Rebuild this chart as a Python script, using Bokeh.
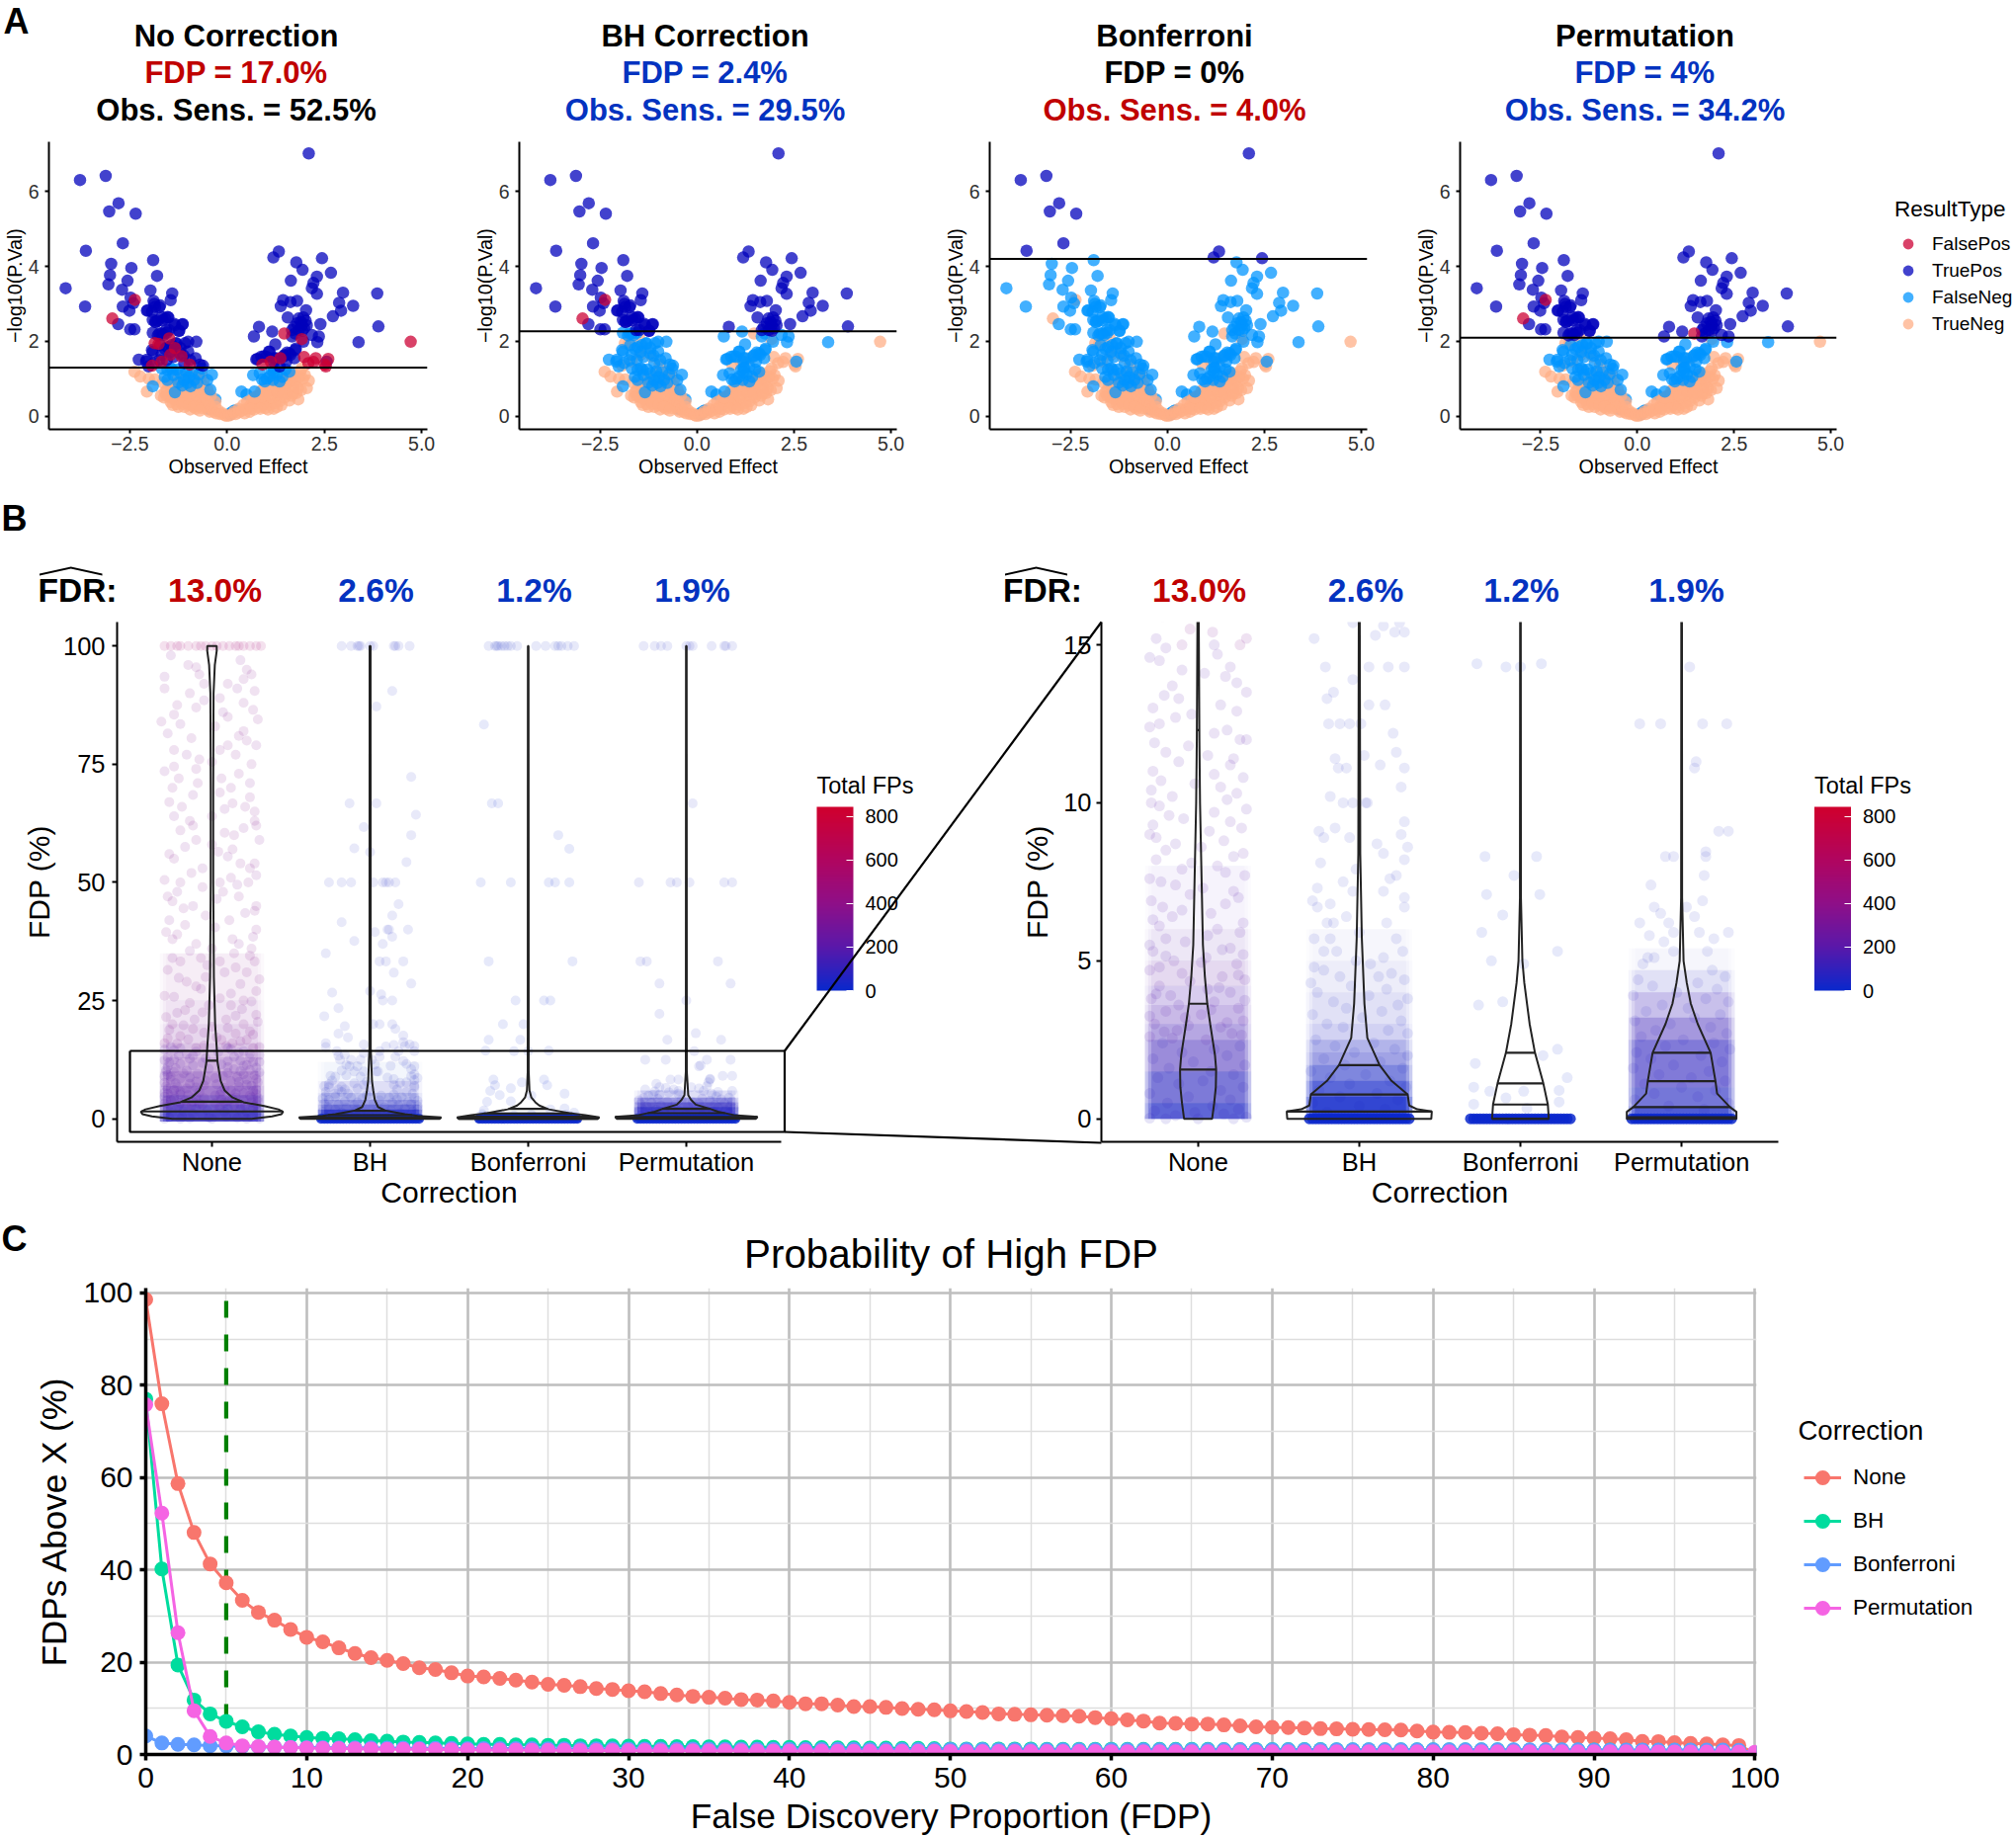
import numpy as np
from bokeh.plotting import figure
from bokeh.models import (Range1d, FixedTicker, Span, Legend, LegendItem, ColorBar,
                          LinearColorMapper, ColumnDataSource)
from bokeh.core.properties import value
from bokeh.layouts import row, column
from bokeh.embed import file_html
from bokeh.resources import INLINE

FONT = "Liberation Sans"
RED, BLUE = "#C00000", "#0433C0"

# ---------- Panel A data ----------
positive_points = [
(-4.15,3.42),(-3.65,2.93),(-3.63,4.42),(-3.78,6.31),(-3.12,6.42),(-2.79,5.69),(-3.03,5.47),(-2.35,5.41),(-2.68,4.62),(-2.98,4.07),
(-3.01,3.77),(-3.05,3.52),(-2.46,3.96),(-2.56,3.62),(-2.70,3.38),(-2.48,3.17),(-2.68,2.93),(-2.51,2.82),(-2.41,3.02),(-2.80,2.46),
(-2.49,2.32),(-2.38,2.32),(-1.90,4.17),(-1.80,3.75),(-1.97,3.36),(-1.41,3.28),(-1.45,3.10),(-1.89,3.08),(-2.06,2.82),(-1.93,2.79),
(-1.72,2.96),(-1.85,2.92),(-1.91,2.57),(-1.78,2.55),(-1.68,2.65),(-1.51,2.64),(-1.34,2.43),(-1.14,2.46),(-1.24,2.28),(-1.91,2.23),
(-1.68,2.21),(-1.55,2.23),(-1.78,2.16),(-1.85,2.52),(-1.59,2.61),(-1.49,2.30),(-1.63,2.17),(-1.87,3.0),(-1.74,2.91),(-2.04,2.83),
(-1.66,2.56),(-1.53,2.65),(-1.83,2.52),(-1.74,2.21),(-1.57,2.30),(-1.36,2.47),(-1.15,2.45),(-1.23,2.28),
(-1.0,1.99),(-0.79,1.99),(-1.08,1.95),(-1.30,1.95),(-1.42,1.90),(-1.72,1.90),(-1.93,1.77),(-1.68,1.64),(-1.0,1.73),(-0.81,1.55),
(-1.21,1.68),(-2.27,1.51),(-2.06,1.51),(-2.02,1.33),(-0.70,1.38),(-0.62,1.35),(-1.32,1.94),(-1.53,1.85),(-1.91,1.72),(-1.74,1.5),
(-2.08,1.46),(-1.6,1.8),(-1.45,1.72),(-1.2,1.82),(-1.12,1.62),(-1.38,1.58),(-1.55,1.5),(-1.88,1.42),(-0.95,1.5),(-1.1,1.42),
(-1.91,0.80),(-1.34,0.64),(-1.53,0.97),(-1.40,1.24),(-1.02,0.89),(-0.85,0.97),(-1.11,0.97),(-0.94,0.80),(-0.77,0.89),(-0.64,1.27),
(-0.39,1.11),(-0.51,0.97),(-0.43,0.71),(-0.47,0.20),(0.10,0.09),(0.21,0.16),(-0.30,0.45),(-1.53,1.24),(-1.45,1.28),(-1.28,1.25),
(-1.38,1.1),(-1.2,1.15),(-1.05,1.2),(-0.98,1.05),(-1.25,0.9),(-1.15,0.82),(-0.9,1.18),(-0.72,1.12),(-1.6,1.05),(-1.68,1.28),
(2.10,7.02),(1.33,4.40),(1.19,4.24),(1.78,4.11),(2.44,4.22),(1.94,3.91),(2.67,3.83),(2.31,3.73),(1.64,3.62),(2.22,3.56),
(2.18,3.42),(2.31,3.27),(2.98,3.30),(3.86,3.28),(2.88,3.03),(3.24,2.95),(2.93,2.82),(2.72,2.67),(2.40,2.46),(3.89,2.40),
(3.38,1.98),(1.44,3.10),(1.38,2.94),(1.63,3.05),(1.80,3.08),(2.03,2.83),(1.56,2.64),(1.84,2.61),(1.96,2.64),(2.05,2.43),
(1.92,2.43),(1.80,2.48),(0.82,2.39),(0.69,2.13),(1.16,2.26),(1.67,2.30),(1.75,2.21),(1.67,2.13),(2.18,2.17),(2.36,2.13),
(2.32,1.98),(1.96,1.99),(1.24,1.92),(1.08,1.73),(0.78,1.53),(0.95,1.60),(1.20,1.55),(1.54,1.70),(1.75,1.77),(1.63,1.64),
(1.46,1.60),(2.56,1.46),(1.20,1.29),(1.90,2.52),(1.98,2.35),(1.85,2.3),(2.02,2.55),(1.93,2.28),(1.72,2.38),
(1.60,1.68),(1.77,1.81),(1.09,1.72),(0.88,1.59),(0.75,1.52),(1.01,1.59),(1.26,1.55),(1.47,1.63),(1.73,1.55),(1.20,1.46),(1.35,1.33),(1.52,1.46),
(0.67,1.10),(0.84,1.15),(1.14,1.24),(1.22,1.28),(1.09,1.06),(1.18,0.97),(1.35,0.93),(1.60,1.19),(0.97,0.93),(0.37,0.66),
(0.50,0.58),(0.71,0.66),(0.80,0.53),(0.67,0.31),(0.75,0.45),(0.16,0.13),(0.08,0.05),(1.02,1.0),(1.28,1.12),(1.42,1.05),(1.2,1.18),(0.9,0.98),(1.5,1.25),
]
null_points = [
(-2.37,3.11),(-2.95,2.61),(-1.49,2.08),(-1.86,1.95),(-1.34,1.82),(-1.46,1.64),(-1.17,1.60),(-0.96,1.38),(-1.93,1.35),(-1.68,1.46),(-1.76,1.93),
(1.47,2.21),(1.92,2.06),(1.98,1.58),(2.28,1.55),(2.60,1.53),(2.09,1.42),(2.22,1.45),(2.54,1.33),(2.51,1.38),(1.12,1.46),(1.37,1.55),(0.91,1.38),(4.72,1.99),
(-2.38,1.19),(-2.23,1.06),(-2.01,1.0),(-2.06,0.66),(-1.85,0.98),(-1.6,0.64),(-1.5,0.56),(-1.55,0.7),(-1.45,0.5),(-1.4,0.62),(-1.35,0.45),(-1.3,0.7),
(-1.25,0.55),(-1.2,0.4),(-1.2,0.75),(-1.15,0.5),(-1.1,0.62),(-1.05,0.35),(-1.05,0.8),(-1.0,0.45),(-1.0,0.95),(-0.95,0.58),(-0.9,0.3),(-0.9,0.72),
(-0.85,0.42),(-0.85,1.05),(-0.8,0.55),(-0.78,1.2),(-0.75,0.28),(-0.75,0.85),(-0.7,0.42),(-0.7,0.65),(-0.65,0.22),(-0.65,0.5),(-0.6,0.35),(-0.6,0.7),
(-0.55,0.25),(-0.55,0.5),(-0.5,0.18),(-0.5,0.38),(-0.45,0.12),(-0.45,0.3),(-0.4,0.2),(-0.35,0.12),(-0.3,0.25),(-0.28,0.08),(-0.22,0.15),(-0.18,0.06),
(-0.12,0.08),(-0.06,0.03),(-0.02,0.01),(-1.65,0.9),(-1.28,1.0),(-1.1,1.12),(-0.65,1.1),(-1.42,0.82),(-0.95,0.82),(-0.6,0.95),(-1.62,0.5),(-1.45,0.38),
(-1.3,0.32),(-1.1,0.25),(-0.95,0.18),(-0.8,0.2),(-1.55,0.55),(-1.25,0.25),(-1.7,0.55),(-1.5,0.85),(-1.18,0.9),(-0.88,0.9),(-0.72,1.0),(-0.5,0.7),(-0.42,0.55),
(-0.3,0.38),(-1.35,0.85),(-1.08,0.5),(-0.82,0.72),(-0.62,0.82),(-1.4,0.3),(-1.15,0.33),(-0.98,0.3),(-0.85,0.25),(-0.7,0.15),
(0.05,0.02),(0.12,0.05),(0.18,0.12),(0.22,0.06),(0.3,0.1),(0.3,0.2),(0.38,0.15),(0.42,0.3),(0.45,0.08),(0.5,0.2),(0.52,0.38),(0.58,0.12),(0.6,0.28),
(0.65,0.45),(0.7,0.18),(0.72,0.35),(0.78,0.55),(0.82,0.25),(0.85,0.42),(0.88,0.68),(0.92,0.3),(0.95,0.5),(1.0,0.38),(1.02,0.62),(1.08,0.78),(1.1,0.3),
(1.15,0.48),(1.18,0.68),(1.22,0.35),(1.28,0.55),(1.3,0.8),(1.35,0.4),(1.38,0.65),(1.42,0.95),(1.48,0.5),(1.5,0.75),(1.55,0.6),(1.58,0.9),(1.62,1.05),
(1.65,0.55),(1.7,0.75),(1.72,1.1),(1.78,0.62),(1.8,0.9),(1.83,0.45),(1.88,1.2),(1.9,0.7),(1.95,1.0),(2.0,1.1),(2.05,0.75),(2.1,0.95),(1.92,1.28),
(1.25,0.95),(1.15,0.9),(0.95,0.75),(1.45,0.72),(1.65,0.95),(1.35,0.85),(0.78,0.4),(0.98,0.22),(1.2,0.2),(1.4,0.3),(1.6,0.42),(0.62,0.2),(0.7,0.5),(0.9,0.6),
(1.1,0.55),(1.3,0.65),(1.45,0.6),(1.7,0.62),(1.5,0.9),(1.75,0.95),(1.85,1.05),(1.68,1.15),(1.55,1.1),(1.82,0.75),(0.85,0.2),(1.05,0.18),(1.28,0.25),
]
thresholds = [1.3, 2.27, 4.2, 2.1]
panel_titles = ["No Correction", "BH Correction", "Bonferroni", "Permutation"]
fdp_lines = ["FDP = 17.0%", "FDP = 2.4%", "FDP = 0%", "FDP = 4%"]
sens_lines = ["Obs. Sens. = 52.5%", "Obs. Sens. = 29.5%", "Obs. Sens. = 4.0%", "Obs. Sens. = 34.2%"]
fdp_colors = [RED, BLUE, "black", BLUE]
sens_colors = ["black", BLUE, RED, BLUE]
result_types = ["FalsePos", "TruePos", "FalseNeg", "TrueNeg"]
result_colors = {"FalsePos": "#CC0033", "TruePos": "#0000BB", "FalseNeg": "#0095FF", "TrueNeg": "#FFAE85"}

# ---------- Panel B data ----------
categories = ["None", "BH", "Bonferroni", "Permutation"]
fdr_values = ["13.0%", "2.6%", "1.2%", "1.9%"]
fdr_colors = [RED, BLUE, BLUE, BLUE]

none_top = [-.30,-.26,-.22,-.2,-.15,-.1,-.07,-.04,.0,.03,.07,.11,.15,.17,.2,.24,.28,.31]
none_upper = [(96,-.15),(95.5,-.1),(95,.22),(94,-.08),(94,.25),(93,.2),(92,.1),(92,-.05),(91,-.3),(90.5,.27),(90,-.14),(89,.05),(88,.2),(87.5,-.22),(87,-.1),(86.5,.26),(85.5,-.24),(85,.1),(84.5,.29),(84,-.32),(83,.02),(82,.2),(81,.17),(80.5,-.13),(80,.22),(79,.1),(78,.05),(78,-.24),(77,.15),(76,-.08),(75.5,.0),(75,.25),(74.5,-.24),(74,-.1),(73,.17),(72,.06),(72,-.21),(71,-.09),(70,-.25),(70,.12),(69,.05),(68,.24),(67,-.27),(66.7,.13),(66,-.19),(66,.21),(65,.27),(64,.0),(63,-.14),(63,.27),(62,.28),(62,-.12),(61,-.2),(60.5,.08),(60,.14),(59,-.1),(58,.0),(57,.13),(56.5,.04),(56,-.27),(55,-.24),(54,.27),(54,.18),(53,.24),(52,-.13),(51,.12),(50.5,-.3),(50,-.2),(50,.05),(50,.23),(49,-.06),(48,.07),(47,.17),(47,-.28),(46,-.25),(45,.28),(44.5,-.18),(44,.27),(43,-.04),(42,.11),(41,-.17),(40,.28),(39.5,-.29),(39,-.22),(38,.13),(38,-.25),(37,-.1),(36,.25),(36,.0),(35,.14),(34.5,.24),(34,-.07),(33.3,-.2),(33.3,.05),(33.3,.27),(32,.15),(31.5,-.28),(31,.22),(30,-.04),(29.5,.3),(29,-.16),(28,-.1),(27,.28),(26,-.3),(25.5,.05),(25,.2),(24.5,-.14),(24,.12),(23,-.17),(22.5,-.06),(22,.28),(21.5,-.29),(21,.09),(20,-.25),(20,.2),(19.5,.0),(19,-.12),(18.5,.24),(18,.15),(17.5,-.2),(17,-.28),(16.7,.06),(16.7,.22),(16,-.3),(16,.13),(15.5,-.05),(15,.26)]
none_upper2 = [(98,-.26),(97,.18),(93.5,-.3),(91,.16),(88.5,-.05),(86,.07),(83.5,-.2),(81.5,-.28),(79,.28),(77,-.16),(73.5,-.3),(71,.24),(68.5,-.12),(65.5,.08),(64,-.24),(61.5,.2),(59,.3),(57.5,-.17),(55.5,.1),(53,-.06),(51.5,.28),(49.5,.16),(48,-.22),(46.5,.03),(45,-.12),(43.5,.21),(42,-.27),(40.5,.02),(38.5,.26),(37,.17),(35.5,-.14),(34,-.25),(32.5,-.03),(31,.08),(29.8,-.21),(28.5,.18),(27.5,-.07),(26.5,.12),(25.8,-.24),(24.8,.25),(24,-.02),(23.2,.19),(22.4,-.22),(21.8,.15),(21,-.11),(20.5,.29),(19.8,-.18),(19.2,.1),(18.8,-.27),(18.2,-.05),(17.8,.26),(17.2,.03),(16.8,-.15),(16.4,.18),(15.9,-.22),(15.4,.09),(15.2,.3),(15,-.1)]
none_mid = [(15.2,-.26),(14.9,-.2),(14.7,.12),(14.5,-.24),(14.3,.2),(14.2,-.1),(14,.17),(13.7,-.16),(13.5,.3),(13.3,-.12),(13,-.28),(12.9,.24),(12.7,-.14),(12.5,-.24),(12.4,-.3),(12.2,.1),(12,.26),(12,.3),(11.8,-.06),(11.6,-.2),(11.4,.22),(11.2,.2),(11,-.28),(10.9,.1),(10.7,-.23),(10.5,.14),(10.3,.24),(10.2,-.16),(10,-.29),(9.9,-.24),(9.7,.1),(9.6,-.18),(9.4,.2),(9.2,.27),(9,-.3),(8.9,-.26),(8.8,.16),(8.6,.02),(8.5,-.2),(8.4,.28),(8.2,-.26),(8,.12),(7.9,-.1),(7.7,.29),(7.6,-.3),(7.4,-.14),(7.2,.22),(7.1,-.05),(6.9,-.29),(6.8,.17),(6.7,-.22),(6.5,.08),(6.4,-.16),(6.2,.28),(6.1,-.24),(6,.12),(5.9,.26),(5.7,-.2),(5.6,-.08),(5.4,.2),(5.3,-.28),(5.2,.28),(5.1,.05),(5,-.15),(4.9,.24),(4.7,-.3),(4.6,-.1),(4.5,.15),(4.4,.29),(4.2,-.24),(4.1,.06),(4,.2),(3.9,-.17),(3.8,-.29),(3.7,.1),(3.5,.25),(3.4,-.2),(3.3,.02),(3.2,-.08),(3.1,.28),(3,-.27),(2.9,.14),(2.8,-.13),(2.7,.21),(2.6,-.3),(2.5,.05)]
none_mid2 = [(15,.1),(14.6,-.3),(14.1,.04),(13.8,.24),(13.4,-.21),(13.1,.14),(12.8,-.04),(12.3,.18),(11.9,-.27),(11.5,.06),(11.3,-.12),(10.8,.28),(10.6,-.02),(10.4,-.29),(10.1,.18),(9.8,.3),(9.5,-.09),(9.3,-.28),(9.1,.07),(8.7,-.14),(8.3,.22),(8.1,-.04),(7.8,.17),(7.5,-.23),(7.3,.03),(7,.25),(6.6,-.1),(6.3,-.28),(5.8,.06),(5.5,-.3),(5.35,.15),(5.15,-.2),(4.95,.02),(4.8,-.24),(4.55,.25),(4.35,-.05),(4.15,.13),(3.95,-.26),(3.75,.29),(3.6,-.12),(3.45,.08),(3.25,-.3),(3.05,.18),(2.95,-.06),(2.75,-.21),(2.65,.27),(2.55,-.16)]
none_low = [(2.4,-.22),(2.3,.26),(2.2,.1),(2.1,-.1),(2,.18),(1.9,-.28),(1.8,-.03),(1.7,.29),(1.6,-.18),(1.5,.08),(1.4,.22),(1.3,-.25),(1.2,.03),(1.1,-.12),(1,.28),(.9,.14),(.8,-.3),(.7,-.06),(.6,.2),(.5,-.19),(.4,.09),(.3,.25),(.25,-.27),(.2,-.02),(.15,.16),(.1,-.14),(.05,.3),(.02,-.3),(.0,.0),(.0,-.2),(.0,.22)]

bh_top = [-.18,-.12,-.08,-.07,-.06,0,.02,.15,.16,.18,.25]
bh_upper = [(90.5,.14),(87.2,.04),(72.3,.26),(66.7,-.13),(66.7,.04),(64.3,.29),(61.7,-.04),(60,.26),(57.2,-.1),(56.4,0),(54.3,.23),(50,-.26),(50,-.18),(50,-.12),(50,.02),(50,.08),(50,.1),(50,.12),(50,.16),(45.4,.18),(43,.14),(41.6,-.18),(40,.11),(40,.12),(40,.24),(39.5,.03),(38.5,.14),(37.6,-.1),(37,.08),(35,-.28),(33.3,.06),(33.3,.1),(33.3,.21),(30.9,.15),(28.6,.26),(27,0),(26.7,-.24),(26.3,.07),(25,.08),(25,.14),(23.4,-.2),(21.7,-.29),(20,.02),(20,.06),(20,.14),(19.6,-.16),(19,.16),(18,-.2),(17.6,.21),(17.2,-.14),(16,-.28),(16.2,.21),(15.7,-.04),(15.7,.25)]
bh_mid = [(15.2,-.28),(15.6,.15),(15.3,.1),(15.4,.22),(15.4,.28),(14.3,-.21),(14.3,.06),(14.3,.18),(14.3,.28),(13.9,-.04),(13.5,-.16),(13.3,-.2),(13.1,.06),(13.1,.16),(12.5,-.19),(12.5,-.12),(12.5,-.06),(12.5,.01),(12.2,.21),(11.6,.23),(11.5,.03),(11.4,-.15),(11.2,.13),(11.1,-.13),(11.1,-.08),(11.1,.28),(10.5,.26),(10.2,-.18),(10,-.1),(10,-.04),(10,.04),(10,.05),(9.4,.28),(9.2,-.15),(9.1,-.25),(8.9,-.22),(8.9,-.06),(9,.26),(8.6,.3),(8.7,.11),(8.4,.15),(8.2,.28),(8.1,-.24),(7.9,-.02),(7.7,.23),(7.6,.19),(7.5,-.1),(7.3,-.26),(7.2,-.04),(7.2,.15),(7,.28),(6.9,-.29),(6.8,-.18),(6.7,-.26),(6.7,.28),(6.4,-.08),(6.2,-.16),(6.2,-.2),(6.2,.17),(5.9,0),(5.7,-.28),(5.7,.23),(5.7,-.18),(5.3,-.22),(5.3,-.14),(5.3,.27),(5.1,.15),(5,-.02),(4.9,.07),(4.8,-.28),(4.7,-.22),(4.6,.2),(4.5,-.12),(4.5,.12),(4.4,.28),(4.3,-.3),(4.2,-.05),(4.1,.17),(4,-.26),(3.9,.06),(3.8,.3),(3.7,-.16),(3.6,.24),(3.5,-.08),(3.4,.14),(3.3,-.29),(3.2,.02),(3.1,.26),(3,-.2),(2.9,-.1),(2.8,.18),(2.7,.3)]
bh_low = [(2.5,-.27),(2.4,.09),(2.3,-.15),(2.2,.22),(2.1,-.03),(2,.3),(1.9,-.22),(1.8,.13),(1.7,-.09),(1.6,.27),(1.5,-.3),(1.4,.04),(1.3,-.18),(1.2,.19),(1.1,-.06),(1,.29),(.9,-.25),(.8,.11),(.7,-.12),(.6,.24),(.5,-.29),(.4,.0),(.3,.16),(.2,-.2)]
zero_row = [-.31,-.29,-.27,-.25,-.23,-.21,-.19,-.17,-.15,-.13,-.11,-.09,-.07,-.05,-.03,-.01,.01,.03,.05,.07,.09,.11,.13,.15,.17,.19,.21,.23,.25,.27,.29,.31]

bonf_top = [-.25,-.21,-.2,-.19,-.17,-.15,-.13,-.11,-.07,.05,.11,.17,.19,.21,.25,.29]
bonf_upper = [(83.4,-.28),(66.7,-.23),(66.7,-.19),(60,.19),(57.1,.26),(50,-.3),(50,-.11),(50,.13),(50,.17),(50,.26),(33.3,-.25),(33.3,.28),(25,-.08),(25,.1),(25,.14),(20,-.16),(20,-.03),(16.7,-.25),(16.7,-.05),(14.4,-.27),(14.4,.13),(14.3,-.09),(14.3,0),(8.3,-.22),(8.3,.1),(7.7,-.04),(7.1,-.21),(7.1,.12),(6.45,-.11),(5.9,-.24),(5,-.18),(5.3,.23),(4.9,.02),(3.6,-.26),(3.7,-.11),(2.2,.23),(2,.14),(1.75,-.28),(1.3,.29),(1,-.29),(.87,-.19),(.87,.02),(.9,.24),(.66,-.09),(.46,-.29),(.53,.24),(.33,.04)]

perm_top = [-.27,-.2,-.16,-.12,0,.02,.04,.16,.24,.25,.29]
perm_upper = [(66.7,.04),(50,-.3),(50,-.1),(50,-.06),(50,.02),(50,.24),(50,.29),(33.3,-.29),(33.3,-.25),(33.3,.2),(28.6,-.17),(28.6,.28),(25,0),(22.2,-.17),(18.1,.06),(16.7,-.12),(16.7,.22),(14.3,.05),(12.5,-.26),(12.5,-.13),(12.5,.13),(12.5,.28),(11.3,.09),(11.1,.08),(9.1,.23),(9.1,.29),(8.3,-.1),(8.3,-.05),(8.45,.15),(8.3,.15),(7.7,.14),(7.4,-.19),(6.9,.13),(6.7,-.17),(6.7,.03),(6.5,-.13),(6.4,.08),(6.2,-.26),(6.2,-.08),(5.9,-.05),(5.9,.29),(5.8,-.2),(5.9,.11),(5.7,.2),(5.6,-.11),(5.3,.16),(5.3,-.05),(5.1,-.17),(5.1,-.21),(4.9,-.24),(4.7,.19),(4.5,.27)]
perm_low = [(4.4,-.27),(4.3,.1),(4.2,-.18),(4.1,.22),(4,-.03),(3.9,-.3),(3.8,.15),(3.7,.29),(3.6,-.12),(3.5,.04),(3.4,-.22),(3.3,.24),(3.2,.08),(3.1,-.29),(3,-.07),(2.9,.18),(2.8,-.16),(2.7,.28),(2.6,-.25),(2.5,.01),(2.4,.2),(2.3,-.1),(2.2,.3),(2.1,-.28),(2,.12),(1.9,-.19),(1.8,.25),(1.7,-.05),(1.6,-.3),(1.5,.17),(1.4,-.14),(1.3,.06),(1.2,.27),(1.1,-.23),(1,.0),(.9,.21),(.8,-.17),(.7,.1),(.6,-.29),(.5,.29),(.4,-.08),(.3,.14)]

# (correction index, points, total FPs of the group)
strips = [(0, [(100, j) for j in none_top], 520), (0, none_upper, 370), (0, none_upper2, 330), (0, none_mid, 210), (0, none_mid2, 180), (0, none_low, 90),
          (1, [(100, j) for j in bh_top], 45), (1, bh_upper, 40), (1, bh_mid, 55), (1, bh_low, 40),
          (2, [(100, j) for j in bonf_top], 25), (2, bonf_upper, 12), (2, [(0, j) for j in zero_row], 0),
          (3, [(100, j) for j in perm_top], 45), (3, perm_upper, 40), (3, perm_low, 70),
          (1, [(0, j) for j in zero_row], 0), (3, [(0, j) for j in zero_row], 0)]

# density bands of the jittered clouds: correction, low FDP, high FDP, density, total FPs
bands_left = [(0,-.6,1.5,.8,80),(0,1.5,3,.72,120),(0,3,5,.65,170),(0,5,7,.55,220),(0,7,10,.45,250),(0,10,13,.32,280),(0,13,16,.25,300),(0,16,20,.17,320),(0,20,25,.11,340),(0,25,35,.07,340),
              (1,-.6,.8,.99,15),(1,.8,2,.85,40),(1,2,3,.6,50),(1,3,4,.42,55),(1,4,5.5,.28,60),(1,5.5,8,.14,60),(1,8,12,.05,50),
              (2,-.8,.8,.99,5),(2,.8,1.5,.12,20),
              (3,-.6,.4,.99,15),(3,.4,2.5,.85,60),(3,2.5,3.5,.7,70),(3,3.5,4.5,.45,70),(3,4.5,6,.15,60)]
bands_right = [(0,0,.5,.7,40),(0,.5,1.5,.6,70),(0,1.5,2.5,.5,120),(0,2.5,3,.38,150),(0,3,3.6,.3,170),(0,3.6,4.2,.22,180),(0,4.2,5,.16,190),(0,5,6,.1,200),(0,6,8,.05,210),
               (1,.05,.7,.85,15),(1,.7,1.2,.7,30),(1,1.2,1.7,.55,40),(1,1.7,2.1,.42,50),(1,2.1,2.5,.34,60),(1,2.5,3,.2,60),(1,3,4,.13,60),(1,4,5,.08,60),(1,5,6,.04,60),
               (3,.05,.4,.75,30),(3,.4,1,.62,60),(3,1,2.5,.6,90),(3,2.5,3.2,.45,120),(3,3.2,4,.28,120),(3,4,4.7,.13,100),(3,4.7,5.4,.04,80)]

# violin outlines: (FDP, half width)
violin_left = [
 [(0,.25),(.5,.38),(1,.44),(1.5,.45),(2,.42),(2.7,.33),(3.5,.2),(4.5,.13),(6,.08),(8,.055),(12,.035),(15,.03),(20,.02),(30,.012),(50,.008),(70,.008),(90,.01),(96,.018),(99,.03),(100,.03)],
 [(0,.44),(.3,.45),(.6,.3),(1,.22),(1.7,.1),(2.5,.05),(4,.03),(6,.02),(8,.012),(15,.004),(100,.003)],
 [(0,.44),(.3,.45),(.8,.36),(1.2,.26),(2,.13),(2.8,.07),(3.5,.045),(4.5,.02),(6,.008),(10,.003),(100,.002)],
 [(0,.44),(.4,.45),(.8,.3),(1.5,.2),(2.1,.15),(3,.06),(4,.03),(5,.012),(10,.003),(100,.002)]]
violin_right = [
 [(0,.087),(.5,.1),(1,.11),(1.56,.112),(2,.105),(2.5,.09),(3,.075),(3.64,.057),(4.5,.042),(5.5,.03),(7,.024),(10,.012),(12,.008),(15.8,.004)],
 [(0,.447),(.23,.45),(.3,.36),(.42,.31),(.77,.30),(1.2,.2),(1.7,.126),(2.56,.05),(3.64,.032),(5.7,.016),(8.4,.006),(15.8,.003)],
 [(0,.176),(.45,.17),(1.12,.142),(2.09,.09),(3,.057),(4.3,.024),(5,.012),(7,.003),(15.8,.002)],
 [(0,.34),(.22,.34),(.37,.30),(.8,.22),(1.19,.21),(2.09,.18),(3,.1),(3.64,.057),(4.3,.032),(5,.012),(7,.003),(15.8,.002)]]
violin_quantiles = [[1.56,3.64,12.3],[.23,.77,1.7],[0,.45,1.12,2.09],[.05,.37,1.19,2.09]]

# ---------- Panel C data ----------
fdp_x = list(range(0, 101))
above_none = [98.6,76,58.7,48.1,41.3,37.2,33.4,30.8,29.1,27.1,25.4,24.4,23.1,21.9,21,20.4,19.7,18.8,18.4,17.7,17,16.8,16.5,16.1,15.7,15.2,15,14.7,14.3,14.1,13.8,13.6,13.2,12.9,12.6,12.4,12.2,11.9,11.8,11.6,11.3,11,11,10.7,10.4,10.4,10.2,9.95,9.8,9.7,9.45,9.3,9.1,8.8,8.7,8.6,8.5,8.4,8.3,8,7.75,7.5,7.25,6.8,6.75,6.6,6.6,6.4,6.2,6,5.9,5.85,5.75,5.6,5.55,5.45,5.4,5.35,5.3,5.1,4.85,4.8,4.75,4.6,4.5,4.3,4.2,4.1,3.8,3.7,3.55,3.4,3.2,2.85,2.8,2.56,2.4,2.3,2.1,1.95,.3]
above_bh = [77,40.2,19.4,11.8,8.8,7.2,6,4.9,4.4,4,3.7,3.5,3.4,3.2,3,2.9,2.7,2.6,2.5,2.4,2.3,2.2,2.2,2.1,2.1,2,2,1.9,1.9,1.85,1.8,1.75,1.75,1.7,1.7,1.65,1.65,1.6,1.6,1.55,1.55,1.5,1.5,1.45,1.45,1.4,1.4,1.35,1.35,1.3,1.2,1.2,1.2,1.2,1.2,1.2,1.15,1.15,1.15,1.15,1.15,1.1,1.1,1.1,1.1,1.1,1.1,1.05,1.05,1.05,1.05,1.05,1.05,1.05,1,1,1,1,1,1,1,1,1,1,1,.95,.95,.95,.95,.95,.95,.95,.9,.9,.9,.9,.9,.85,.85,.8,.3]
above_bonf = [4,2.5,2.2,2.1,1.9,1.85,1.7,1.65,1.6,1.55,1.5,1.48,1.46,1.44,1.42,1.4,1.38,1.36,1.34,1.32,1.3,1.29,1.28,1.27,1.26,1.25,1.24,1.23,1.22,1.21,1.2,1.2,1.19,1.18,1.17,1.16,1.15,1.14,1.13,1.12,1.12,1.11,1.1,1.1,1.1,1.09,1.08,1.08,1.07,1.06,1.05,1.05,1.05,1.04,1.04,1.03,1.03,1.02,1.02,1.01,1.01,1,1,1,1,1,1,1,1,1,1,1,1,1,1,1,1,1,1,1,1,1,1,1,1,1,1,1,1,1,.98,.98,.98,.98,.96,.96,.96,.95,.94,.9,.4]
above_perm = [75.8,52.3,26.4,9.5,3.9,2.5,1.9,1.7,1.6,1.5,1.4,1.35,1.3,1.25,1.2,1.15,1.1,1.1,1.05,1,1,.98,.96,.94,.92,.9,.9,.88,.86,.85,.84,.83,.82,.81,.8,.8,.79,.78,.77,.76,.75,.74,.73,.72,.71,.7,.7,.69,.68,.67,.66,.66,.65,.65,.64,.64,.63,.63,.62,.62,.61,.61,.6,.6,.6,.6,.6,.6,.6,.6,.6,.6,.6,.6,.6,.6,.6,.6,.6,.6,.6,.6,.6,.6,.6,.6,.6,.6,.6,.6,.6,.58,.58,.58,.56,.56,.55,.55,.55,.55,.5]
curve_names = ["None", "BH", "Bonferroni", "Permutation"]
curve_colors = ["#F8766D", "#00DC9E", "#619CFF", "#F564E3"]
curve_values = [above_none, above_bh, above_bonf, above_perm]

# ---------- helpers ----------
def base_fig(w, h, xr, yr, left, right, top, bottom, **kw):
    p = figure(width=w, height=h, x_range=Range1d(*xr), y_range=Range1d(*yr), output_backend="svg",
               toolbar_location=None, min_border_left=left, min_border_right=right, min_border_top=top,
               min_border_bottom=bottom, outline_line_color=None, **kw)
    p.grid.visible = False
    return p

def style_axis(ax, label, ticks, overrides, tick_size, label_size, standoff, label_standoff, width=2, tick_len=5, color="black"):
    ax.axis_label = label
    ax.ticker = FixedTicker(ticks=ticks)
    if overrides:
        ax.major_label_overrides = overrides
    ax.major_label_text_font = FONT
    ax.major_label_text_font_size = tick_size
    ax.major_label_text_color = color
    ax.axis_label_text_font = FONT
    ax.axis_label_text_font_size = label_size
    ax.axis_label_text_font_style = "normal"
    ax.axis_label_text_color = "black"
    ax.axis_label_standoff = label_standoff
    ax.major_label_standoff = standoff
    ax.axis_line_width = width
    ax.axis_line_color = "black"
    ax.major_tick_line_width = width
    ax.major_tick_line_color = "black"
    ax.major_tick_out = tick_len
    ax.major_tick_in = 0
    ax.minor_tick_line_color = None

# ---------- Panel A ----------
AX0, AX1, AY0, AY1 = -4.58, 5.15, -0.35, 7.33
A_TOP, A_H = 143, 291
A_W = 383
a_lefts = [49, 48, 48, 47]
a_widths = [476, 476, 476, 612]
a_figs = []
for i in range(4):
    p = base_fig(a_widths[i], 505, (AX0, AX1), (AY0, AY1), a_lefts[i], a_widths[i]-a_lefts[i]-A_W, A_TOP, 505-A_TOP-A_H)
    thr = thresholds[i]
    fn = [q for q in positive_points if q[1] < thr]
    groups = [("FalseNeg", [q for q in fn if q[1] < .6]), ("TrueNeg", [q for q in null_points if q[1] < thr]),
              ("FalseNeg", [q for q in fn if q[1] >= .6]),
              ("TruePos", [q for q in positive_points if q[1] >= thr]), ("FalsePos", [q for q in null_points if q[1] >= thr])]
    for name, pts in groups:
        p.scatter([q[0] for q in pts], [q[1] for q in pts], size=12.5, fill_color=result_colors[name],
                  fill_alpha=0.74, line_color=None)
    p.add_layout(Span(location=thr, dimension="width", line_color="black", line_width=2))
    style_axis(p.xaxis[0], "Observed Effect", [-2.5, 0, 2.5, 5], {-2.5: "\u22122.5", 0: "0.0", 2.5: "2.5", 5: "5.0"}, "19.5px", "19.7px", 3, 2, tick_len=4, color="#303030")
    style_axis(p.yaxis[0], "\u2212log10(P.Val)", [0, 2, 4, 6], None, "19.5px", "19.7px", 6, 0, tick_len=4, color="#303030")
    a_figs.append(p)

# ---------- Panel B ----------
anchors = [(0, (10, 40, 204)), (200, (90, 24, 170)), (400, (143, 15, 136)), (600, (176, 5, 96)), (845, (208, 0, 45))]
palette = []
for k in range(256):
    v = 845*k/255
    rgb = [int(round(np.interp(v, [a[0] for a in anchors], [a[1][c] for a in anchors]))) for c in range(3)]
    palette.append("#%02x%02x%02x" % tuple(rgb))
mapper = LinearColorMapper(palette=palette, low=0, high=845)

def colorbar(x, y):
    return ColorBar(color_mapper=mapper, location=(x, y), width=37, height=186, ticker=FixedTicker(ticks=[0, 200, 400, 600, 800]),
                    major_label_text_font=FONT, major_label_text_font_size="20px", major_label_text_color="black", label_standoff=12,
                    major_tick_line_color="white", major_tick_in=7, major_tick_out=0, minor_tick_line_color=None,
                    bar_line_color=None, background_fill_color=None, border_line_color=None, padding=0, margin=0)

def draw_b(p, bands, violins, dot_size, quant_color="#222222"):
    for half in (.33, .31, .29):
        p.quad(left=[t[0]+1-half for t in bands], right=[t[0]+1+half for t in bands], bottom=[t[1] for t in bands], top=[t[2] for t in bands],
               fill_color=[palette[int(t[4]/845*255)] for t in bands], fill_alpha=[1-(1-t[3])**(1/3) for t in bands], line_color=None)
    for idx, pts, total in strips:
        src = ColumnDataSource(dict(x=[idx+1+q[1] for q in pts], y=[q[0] for q in pts], total=[total]*len(pts)))
        alpha = 0.85 if total == 0 else (0.12 if idx == 0 else 0.1)
        p.scatter("x", "y", source=src, size=dot_size, line_color=None, fill_alpha=alpha,
                  fill_color={"field": "total", "transform": mapper})
    for idx, outline in enumerate(violins):
        f = [q[0] for q in outline]; w = [q[1] for q in outline]
        xs = [idx+1-a for a in w] + [idx+1+a for a in reversed(w)]
        ys = f + f[::-1]
        p.patch(xs, ys, fill_alpha=0, line_color=quant_color, line_width=2)
        qs = [q for q in violin_quantiles[idx] if q <= f[-1]]
        hw = np.interp(qs, f, w)
        p.segment([idx+1-a for a in hw], qs, [idx+1+a for a in hw], qs, line_color=quant_color, line_width=2.2)

cat_overrides = {i+1: c for i, c in enumerate(categories)}

# left
BL_L, BL_W, BL_TOP, BL_H = 118, 672, 629, 526
B_CANVAS_TOP, B_CANVAS_H = 505, 727
LX0, LX1, LY0, LY1 = 0.4, 4.6, -4.87, 105.07
pl = base_fig(1114, B_CANVAS_H, (LX0, LX1), (LY0, LY1), BL_L, 1114-BL_L-BL_W, BL_TOP-B_CANVAS_TOP, B_CANVAS_H-(BL_TOP-B_CANVAS_TOP)-BL_H)
pl.background_fill_color = None
draw_b(pl, bands_left, violin_left, 10)
style_axis(pl.xaxis[0], "Correction", [1, 2, 3, 4], cat_overrides, "25.5px", "30px", 1, -3, tick_len=5)
style_axis(pl.yaxis[0], "FDP (%)", [0, 25, 50, 75, 100], None, "25.5px", "30px", 7, 5, tick_len=5)

# right
BR_L, BR_W, BR_CANVAS_L = 1114, 685, 1005
RX0, RX1, RY0, RY1 = 0.4, 4.6, -0.73, 15.72
pr = base_fig(2040-BR_CANVAS_L, B_CANVAS_H, (RX0, RX1), (RY0, RY1), BR_L-BR_CANVAS_L, 2040-BR_L-BR_W, BL_TOP-B_CANVAS_TOP, B_CANVAS_H-(BL_TOP-B_CANVAS_TOP)-BL_H,
              margin=(0, 0, 0, -(1114-BR_CANVAS_L)))
pr.background_fill_color = None
pr.border_fill_color = None
draw_b(pr, bands_right, violin_right, 11)
style_axis(pr.xaxis[0], "Correction", [1, 2, 3, 4], cat_overrides, "25.5px", "30px", 1, -3, tick_len=5)
style_axis(pr.yaxis[0], "FDP (%)", [0, 5, 10, 15], None, "25.5px", "30px", 5, 7, tick_len=5)

# ---------- Panel C ----------
C_TOP, C_H = 70, 474
C_CANVAS_H = 627
pc = base_fig(2040, C_CANVAS_H, (0, 100.1), (0, 101.07), 147, 263, C_TOP, C_CANVAS_H-C_TOP-C_H)
pc.grid.visible = True
for g, major, minor in [(pc.xgrid[0], list(range(0, 101, 10)), list(range(5, 100, 10))), (pc.ygrid[0], list(range(0, 101, 20)), list(range(10, 100, 20)))]:
    g.ticker = FixedTicker(ticks=major, minor_ticks=minor)
    g.grid_line_color = "#BEBEBE"
    g.grid_line_width = 2.6
    g.minor_grid_line_color = "#DEDEDE"
    g.minor_grid_line_width = 1.5
pc.line([5, 5], [0, 98.9], line_color="#008000", line_width=4.2, line_dash="17 17")
for name, col, vals in zip(curve_names, curve_colors, curve_values):
    pc.line(fdp_x, vals, line_color=col, line_width=3)
    pc.scatter(fdp_x, vals, size=15, fill_color=col, line_color=None)
style_axis(pc.xaxis[0], "False Discovery Proportion (FDP)", list(range(0, 101, 10)), None, "30px", "35.3px", 7, 6, width=3.5, tick_len=6)
style_axis(pc.yaxis[0], "FDPs Above X (%)", list(range(0, 101, 20)), None, "30px", "35px", 7, 7, width=3.5, tick_len=6)
pc.title.text = "Probability of High FDP"
pc.title.align = "center"
pc.title.text_font = FONT
pc.title.text_font_size = "40.3px"
pc.title.text_font_style = "normal"
pc.title.text_color = "black"
pc.title.standoff = 24

# ---------- page-wide overlay: headings, zoom box, legends ----------
ov = figure(width=2040, height=1859, x_range=Range1d(0, 2040), y_range=Range1d(1859, 0), output_backend="svg",
            toolbar_location=None, min_border=0, outline_line_color=None, x_axis_type=None, y_axis_type=None,
            background_fill_color=None, border_fill_color=None)
ov.grid.visible = False

def text(x, y, s, size, bold=False, color="black", align="center"):
    ov.text([x], [y], text=[s], text_font=value(FONT), text_font_size=size, text_font_style="bold" if bold else "normal",
            text_color=color, text_align=align, text_baseline="middle")

for i, cx in enumerate([238.5, 713, 1188, 1664]):
    text(cx, 36, panel_titles[i], "31px", True)
    text(cx, 73, fdp_lines[i], "31px", True, fdp_colors[i])
    text(cx, 111, sens_lines[i], "31px", True, sens_colors[i])
text(3, 21, "A", "36px", True, align="left")
text(1, 524, "B", "36px", True, align="left")
text(1, 1253, "C", "36px", True, align="left")

for cxs, fx, ha, hb in [([217, 380, 540, 700], 38, 39.5, 103), ([1213, 1381.5, 1539, 1706], 1014.5, 1016.5, 1079.5)]:
    for i in range(4):
        text(cxs[i], 597, fdr_values[i], "33.5px", True, fdr_colors[i])
    text(fx, 597, "FDR:", "33.5px", True, align="left")
    hm = (ha+hb)/2
    ov.patch([ha, hm, hb, hb, hm, ha], [580, 573, 580, 582, 575, 582], fill_color="black", line_color=None)

for x in (826, 1835.5):
    text(x, 794, "Total FPs", "23.5px", align="left")
ov.add_layout(colorbar(826, 1859-1002))
ov.add_layout(colorbar(1835.5, 1859-1002))

ov.line([131, 793.5, 793.5, 131, 131], [1063, 1063, 1145, 1145, 1063], line_color="black", line_width=2.2, level="overlay")
ov.line([793.5, 1114], [1063, 629], line_color="black", line_width=2.2, level="overlay")
ov.line([793.5, 1114], [1145, 1156], line_color="black", line_width=2.2, level="overlay")

nan = [float("nan")]
a_items = [LegendItem(label=n, renderers=[ov.scatter(nan, nan, size=12.5, fill_color=result_colors[n], fill_alpha=.74, line_color=None)]) for n in result_types]
ov.add_layout(Legend(items=a_items, title="ResultType", location=(1917, 1859-341), border_line_color=None, background_fill_alpha=0,
                     label_text_font=FONT, label_text_font_size="19px", label_text_color="black", title_text_font=FONT, title_text_font_size="22.5px",
                     title_text_font_style="normal", title_text_color="black", glyph_width=27, glyph_height=27, spacing=0, padding=0, margin=0,
                     label_standoff=11, title_standoff=8), "center")
text(1819, 1447, "Correction", "27.5px", align="left")
c_items = [LegendItem(label=n, renderers=[ov.line(nan, nan, line_color=c, line_width=3), ov.scatter(nan, nan, size=15, fill_color=c, line_color=None)])
           for n, c in zip(curve_names, curve_colors)]
ov.add_layout(Legend(items=c_items, location=(1825, 1859-1646), border_line_color=None, background_fill_alpha=0,
                     label_text_font=FONT, label_text_font_size="22.5px", label_text_color="black", glyph_width=38,
                     glyph_height=38, spacing=6, padding=0, margin=0, label_standoff=12), "center")

page = column(row(*a_figs, spacing=0), row(pl, pr, spacing=0), pc, row(ov, margin=(-1859, 0, 0, 0)), spacing=0)
open("out.html", "w").write(file_html(page, INLINE))
